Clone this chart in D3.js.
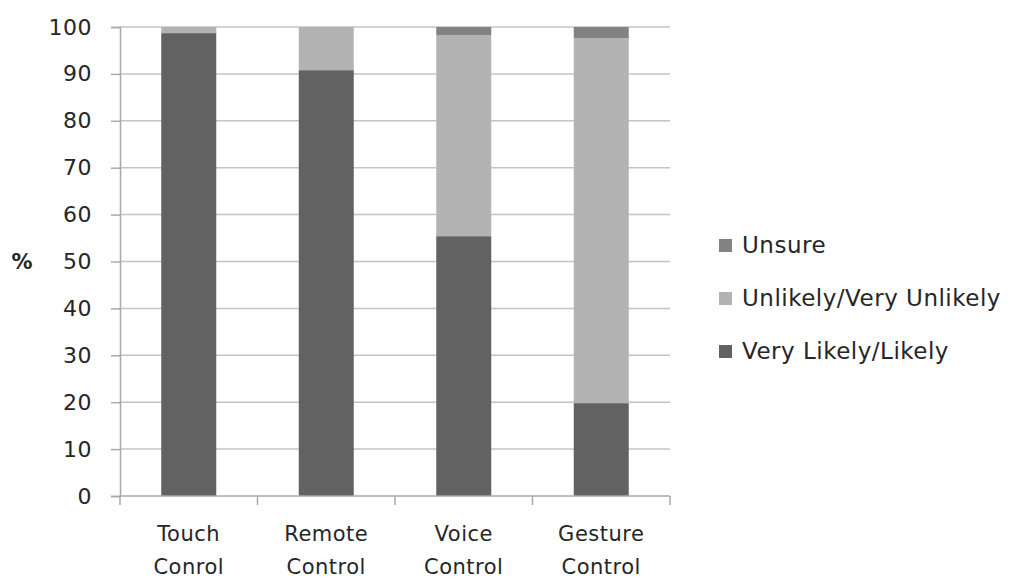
<!DOCTYPE html>
<html>
<head>
<meta charset="utf-8">
<script src="https://cdn.jsdelivr.net/npm/d3@7"></script>
<style>
  html, body { margin: 0; padding: 0; background: #fff; }
  svg { display: block; }
  text { font-family: "DejaVu Sans", Verdana, sans-serif; fill: #262626; }
</style>
</head>
<body>
<svg id="chart" width="1010" height="579"></svg>
<script>
// Survey categories (two-line labels)
const categories = ["Touch Conrol", "Remote Control", "Voice Control", "Gesture Control"];
const categoryLines = [["Touch", "Conrol"], ["Remote", "Control"], ["Voice", "Control"], ["Gesture", "Control"]];

// Response shares, percent
const likely = [98.7, 90.8, 55.4, 19.8];
const unlikely = [1.3, 9.2, 42.9, 77.8];
const unsure = [0.0, 0.0, 1.7, 2.4];

const seriesNames = ["Very Likely/Likely", "Unlikely/Very Unlikely", "Unsure"];
const seriesColors = ["#626262", "#b3b3b3", "#828282"];
const yTicks = [0, 10, 20, 30, 40, 50, 60, 70, 80, 90, 100];

const svg = d3.select("#chart");
const plot = { left: 120, right: 670, top: 27, bottom: 496 };

const x = d3.scaleBand().domain(categories).range([plot.left, plot.right])
  .paddingInner(0.6).paddingOuter(0.3);
const y = d3.scaleLinear().domain([0, 100]).range([plot.bottom, plot.top]);

// Horizontal gridlines
svg.append("g").selectAll("line").data(yTicks.filter(d => d > 0)).join("line")
  .attr("x1", plot.left).attr("x2", plot.right)
  .attr("y1", d => y(d)).attr("y2", d => y(d))
  .attr("stroke", "#c4c4c4").attr("stroke-width", 1.5);

// Stacked bars
const rows = categories.map((c, i) => ({ cat: c, s0: likely[i], s1: unlikely[i], s2: unsure[i] }));
const stack = d3.stack().keys(["s0", "s1", "s2"])(rows);
svg.append("g").selectAll("g").data(stack).join("g")
  .attr("fill", (d, i) => seriesColors[i])
  .selectAll("rect").data(d => d).join("rect")
  .attr("x", d => x(d.data.cat))
  .attr("width", x.bandwidth())
  .attr("y", d => y(d[1]))
  .attr("height", d => y(d[0]) - y(d[1]));

// Y axis
const yAxis = svg.append("g").attr("transform", `translate(${plot.left},0)`)
  .call(d3.axisLeft(y).tickValues(yTicks).tickSize(9).tickPadding(19));
yAxis.select(".domain").attr("stroke", "#a8a8a8").attr("stroke-width", 1.5);
yAxis.selectAll(".tick line").attr("stroke", "#a8a8a8").attr("stroke-width", 1.5);
yAxis.selectAll(".tick text")
  .style("font-size", "22px").style("letter-spacing", "0.5px")
  .style("font-family", "'DejaVu Sans', sans-serif").attr("fill", "#262626");

// X axis baseline with category divider ticks
const xAxisG = svg.append("g");
xAxisG.append("line")
  .attr("x1", plot.left).attr("x2", plot.right)
  .attr("y1", plot.bottom).attr("y2", plot.bottom)
  .attr("stroke", "#a8a8a8").attr("stroke-width", 1.5);
const step = x.step();
const bounds = d3.range(categories.length + 1).map(i => plot.left + i * step);
xAxisG.selectAll("line.div").data(bounds).join("line").attr("class", "div")
  .attr("x1", d => d).attr("x2", d => d)
  .attr("y1", plot.bottom).attr("y2", plot.bottom + 9)
  .attr("stroke", "#a8a8a8").attr("stroke-width", 1.5);

// Category labels
const lbl = xAxisG.selectAll("text").data(categories).join("text")
  .attr("text-anchor", "middle")
  .style("font-size", "21px").style("letter-spacing", "0.5px");
lbl.each(function (d, i) {
  const cx = x(d) + x.bandwidth() / 2;
  d3.select(this).selectAll("tspan").data(categoryLines[i]).join("tspan")
    .attr("x", cx).attr("y", (t, j) => 541 + j * 33).text(t => t);
});

// Y axis title
svg.append("text").attr("x", 22).attr("y", 269).attr("text-anchor", "middle")
  .style("font-size", "21px").style("font-weight", "bold").text("%");

// Legend (top to bottom: Unsure, Unlikely, Likely)
const legendOrder = [2, 1, 0];
const lg = svg.append("g").selectAll("g").data(legendOrder).join("g")
  .attr("transform", (d, i) => `translate(719,${245 + i * 53})`);
lg.append("rect").attr("x", 0).attr("y", -6).attr("width", 13).attr("height", 13)
  .attr("fill", d => seriesColors[d]);
lg.append("text").attr("x", 23).attr("y", 8).style("font-size", "23px")
  .style("letter-spacing", "0.5px")
  .text(d => seriesNames[d]);
</script>
</body>
</html>
